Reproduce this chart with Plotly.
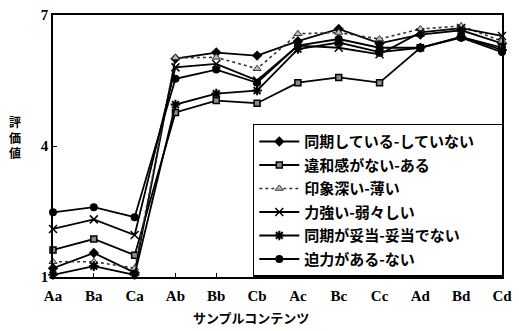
import plotly.graph_objects as go

categories = ["Aa", "Ba", "Ca", "Ab", "Bb", "Cb", "Ac", "Bc", "Cc", "Ad", "Bd", "Cd"]

names = [
    "同期している-していない\u3000\u2002",
    "違和感がない-ある",
    "印象深い-薄い",
    "力強い-弱々しい",
    "同期が妥当-妥当でない",
    "迫力がある-ない",
]

sync_vals = [1.2, 1.55, 1.1, 6.0, 6.14, 6.07, 6.4, 6.68, 6.35, 6.55, 6.65, 6.35]
odd_vals = [1.62, 1.87, 1.5, 4.77, 5.04, 4.98, 5.45, 5.57, 5.45, 6.25, 6.5, 6.25]
impress_vals = [1.35, 1.35, 1.2, 6.02, 6.03, 5.77, 6.57, 6.6, 6.45, 6.68, 6.75, 6.4]
strong_vals = [2.1, 2.32, 1.96, 5.8, 5.88, 5.5, 6.3, 6.25, 6.1, 6.6, 6.7, 6.52]
valid_vals = [1.05, 1.25, 1.05, 4.95, 5.2, 5.27, 6.22, 6.37, 6.15, 6.25, 6.5, 6.2]
power_vals = [2.48, 2.6, 2.37, 5.54, 5.75, 5.45, 6.3, 6.45, 6.25, 6.25, 6.48, 6.15]

series = [sync_vals, odd_vals, impress_vals, strong_vals, valid_vals, power_vals]

styles = [
    dict(line=dict(color="black", width=1.8),
         marker=dict(symbol="diamond", size=8, color="black")),
    dict(line=dict(color="black", width=1.8),
         marker=dict(symbol="square", size=6, color="#8a8a8a", line=dict(color="black", width=1.5))),
    dict(line=dict(color="#333333", width=1.6, dash="dot"),
         marker=dict(symbol="triangle-up", size=7, color="#bbbbbb", line=dict(color="#333333", width=1))),
    dict(line=dict(color="black", width=1.8),
         marker=dict(symbol="x-thin-open", size=8, color="black", line=dict(color="black", width=1.5))),
    dict(line=dict(color="black", width=1.8),
         marker=dict(symbol="asterisk-open", size=8, color="black", line=dict(color="black", width=2))),
    dict(line=dict(color="black", width=1.8),
         marker=dict(symbol="circle", size=8, color="black")),
]

fig = go.Figure()
for i, (nm, vals, st) in enumerate(zip(names, series, styles)):
    fig.add_trace(go.Scatter(
        x=categories, y=vals, name=nm, mode="lines+markers",
        line=st["line"], marker=st["marker"], cliponaxis=False,
        legendgroup=f"g{i}",
    ))

jp = "Noto Sans CJK JP"
serif = "Liberation Serif"

fig.update_layout(
    width=519, height=331,
    margin=dict(l=53, r=7, t=14, b=54),
    paper_bgcolor="white", plot_bgcolor="white",
    showlegend=True,
    legend=dict(
        x=0.445, y=0.585, xanchor="left", yanchor="top",
        bgcolor="white", bordercolor="black", borderwidth=1.5,
        font=dict(family=jp, size=15, color="black", weight="bold"),
        tracegroupgap=1, traceorder="grouped",
        itemwidth=40,
    ),
    xaxis=dict(
        type="category", range=[0, 11],
        showline=True, linecolor="black", linewidth=1.5, mirror=True,
        ticks="inside", ticklen=4, tickcolor="black",
        showgrid=False, zeroline=False,
        tickfont=dict(family=serif, size=15, color="black", weight="bold"),
        ticklabelstandoff=4,
    ),
    yaxis=dict(
        range=[1, 7], tickvals=[1, 4, 7],
        showline=True, linecolor="black", linewidth=1.5, mirror=True,
        ticks="inside", ticklen=4, tickcolor="black",
        showgrid=False, zeroline=False,
        tickfont=dict(family=serif, size=15, color="black", weight="bold"),
    ),
    annotations=[
        dict(text="評<br>価<br>値", xref="paper", yref="paper",
             x=-0.085, y=0.536, xanchor="center", yanchor="middle",
             showarrow=False,
             font=dict(family=jp, size=12, color="black", weight="bold")),
        dict(text="サンプルコンテンツ", xref="paper", yref="paper",
             x=0.44, y=-0.156, xanchor="center", yanchor="middle",
             showarrow=False,
             font=dict(family=jp, size=13, color="black", weight="bold")),
    ],
)

fig.write_html(
    "out.html",
    config={"displayModeBar": False},
    post_script="document.body.style.margin='0';document.body.style.padding='0';",
)
